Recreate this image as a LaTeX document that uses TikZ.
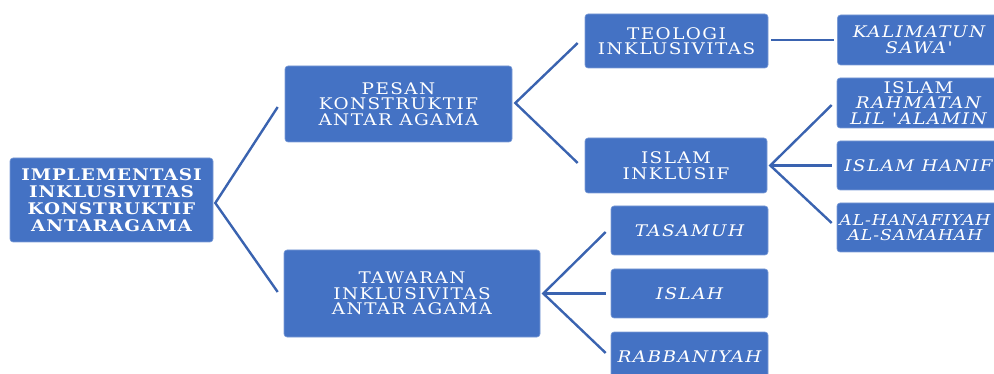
\documentclass[tikz,border=0pt]{standalone}
\usepackage{fontspec}
\usetikzlibrary{calc}
\newfontfamily\tfont[FakeStretch=1.15,LetterSpace=9]{DejaVu Serif}
\newfontfamily\rfont[FakeStretch=1.15,LetterSpace=6]{DejaVu Serif}
\definecolor{boxblue}{HTML}{4472C4}
\definecolor{lineblue}{HTML}{3A63B0}
\tikzset{
  box/.style={fill=boxblue, draw=boxblue!70!white, line width=0.6pt, rounded corners=3pt, text=white, align=center, inner sep=0pt,
    font=\tfont\fontsize{16}{15.5}\selectfont},
  rootbox/.style={box, font=\rfont\bfseries\fontsize{16}{17}\selectfont},
  conn/.style={draw=lineblue, line width=2.4pt}
}
\begin{document}
\begin{tikzpicture}[x=1pt,y=-1pt]
\useasboundingbox (0,0) rectangle (994,374);
% boxes
\node[rootbox, minimum width=203, minimum height=84] (root) at (111.5,200) {IMPLEMENTASI\\INKLUSIVITAS\\KONSTRUKTIF\\ANTARAGAMA};
\node[box, minimum width=227, minimum height=76] (pesan) at (398.5,104) {PESAN\\KONSTRUKTIF\\ANTAR AGAMA};
\node[box, minimum width=256, minimum height=87] (tawaran) at (412,293.5) {TAWARAN\\INKLUSIVITAS\\ANTAR AGAMA};
\node[box, minimum width=183, minimum height=54] (teologi) at (676.5,41) {TEOLOGI\\INKLUSIVITAS};
\node[box, minimum width=182, minimum height=55] (inklusif) at (676,165.5) {ISLAM\\INKLUSIF};
\node[box, minimum width=163, minimum height=50] (kalimatun) at (919,40) {\itshape KALIMATUN\\\itshape SAWA'};
\node[box, minimum width=163, minimum height=50] (rahmatan) at (918.5,103) {ISLAM\\\itshape RAHMATAN\\\itshape LIL 'ALAMIN};
\node[box, minimum width=163, minimum height=49] (hanif) at (918.5,165.5) {\itshape ISLAM HANIF};
\node[box, minimum width=163, minimum height=49] (hanafiyah) at (918.5,227.5) {};
\node[anchor=center, text=white, align=center, inner sep=0pt, font=\rfont\itshape\fontsize{15}{15.5}\selectfont] (hanafiyahtext) at (915,227.5) {AL-HANAFIYAH\\AL-SAMAHAH};
\node[box, minimum width=157, minimum height=49] (tasamuh) at (689.5,230.5) {\itshape TASAMUH};
\node[box, minimum width=157, minimum height=49] (islah) at (689.5,293.5) {\itshape ISLAH};
\node[box, minimum width=157, minimum height=49] (rabbaniyah) at (689.5,356.5) {\itshape RABBANIYAH};
% connector vertices
\coordinate (rv) at ($(root.east)+(2,3)$);
\coordinate (pv) at ($(pesan.east)+(3,-1)$);
\coordinate (tv) at ($(tawaran.east)+(3,0)$);
\coordinate (iv) at ($(inklusif.east)+(3,0)$);
% connectors
\draw[conn] ($(pesan.west)+(-7,3)$) -- (rv) -- ($(tawaran.west)+(-6,-1.5)$);
\draw[conn] ($(teologi.west)+(-7,2)$) -- (pv) -- ($(inklusif.west)+(-7,-2.5)$);
\draw[conn] ($(tasamuh.west)+(-5,1.5)$) -- (tv) -- ($(rabbaniyah.west)+(-5,-3.5)$);
\draw[conn] (tv) -- ($(islah.west)+(-5,0)$);
\draw[conn] ($(teologi.east)+(3,-1)$) -- ($(kalimatun.west)+(-3,0)$);
\draw[conn] ($(rahmatan.west)+(-5,2)$) -- (iv) -- ($(hanafiyah.west)+(-5,-4.5)$);
\draw[conn] (iv) -- ($(hanif.west)+(-5,0)$);
\end{tikzpicture}
\end{document}
